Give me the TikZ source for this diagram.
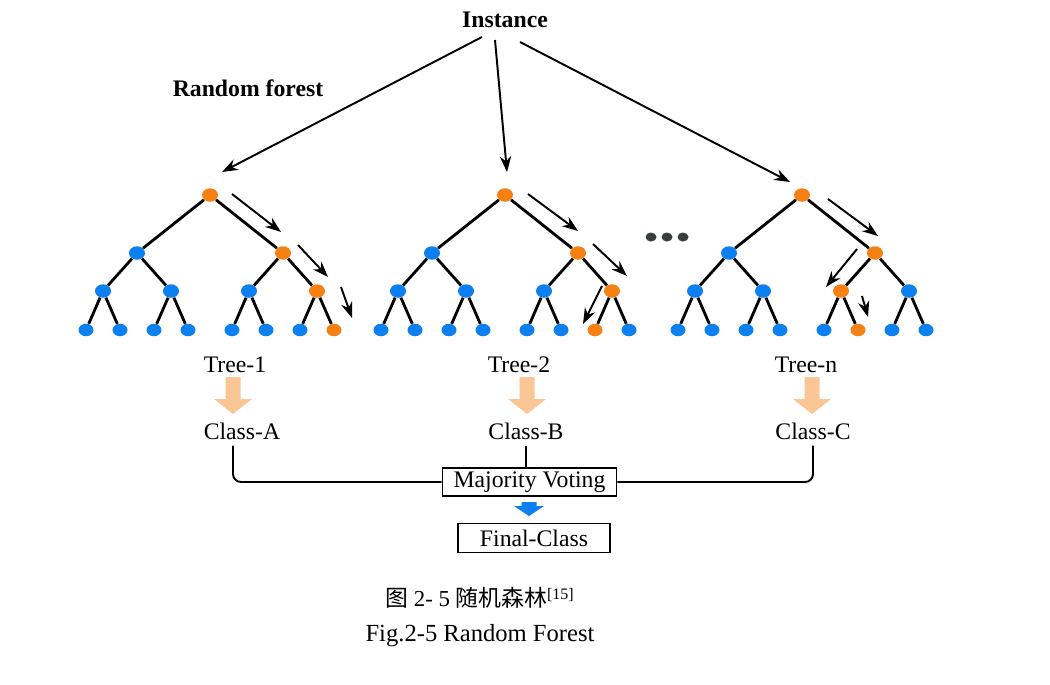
\documentclass[tikz,border=0pt]{standalone}
\usepackage{fontspec}
\setmainfont{Liberation Serif}
\newfontfamily\cjk{Noto Sans CJK SC}
\usepackage{xcolor}
\usetikzlibrary{shapes.geometric,arrows.meta,calc}
\definecolor{treeblue}{RGB}{12,128,238}
\definecolor{treeorange}{RGB}{245,128,20}
\definecolor{peach}{RGB}{250,198,150}
\definecolor{dotgray}{RGB}{55,60,60}

\begin{document}
\begin{tikzpicture}[x=0.02cm,y=-0.02cm,
  every node/.style={font=\fontsize{13.5}{16}\selectfont},
  knot/.style={ellipse,inner sep=0pt,minimum width=0.32cm,minimum height=0.27cm},
  leaf/.style={knot,minimum width=0.3cm,minimum height=0.25cm},
  branch/.style={line width=1.6pt},
  arr/.style={line width=1.1pt,-{Stealth[length=9pt,width=6.5pt]}},
  box/.style={draw,line width=1.1pt,inner sep=0pt}]
\useasboundingbox (0,0) rectangle (1050,684);

% the three trees, heap numbering 1..15, orange = path of the instance
\foreach \t/\rx/\a/\b/\c in {1/210/3/7/15,2/505/3/7/14,3/802/3/6/13} {
  \node[knot,fill=treeorange] (t\t-1) at (\rx,195) {};
  \foreach \i/\dx in {2/-73,3/73} {
    \pgfmathsetmacro\col{ifthenelse(\i==\a,"treeorange","treeblue")}
    \node[knot,fill=\col] (t\t-\i) at (\rx+\dx,253) {};
  }
  \foreach \i/\dx in {4/-107,5/-39,6/39,7/107} {
    \pgfmathsetmacro\col{ifthenelse(\i==\b,"treeorange","treeblue")}
    \node[knot,fill=\col] (t\t-\i) at (\rx+\dx,291) {};
  }
  \foreach \i/\dx in {8/-124,9/-90,10/-56,11/-22,12/22,13/56,14/90,15/124} {
    \pgfmathsetmacro\col{ifthenelse(\i==\c,"treeorange","treeblue")}
    \node[leaf,fill=\col] (t\t-\i) at (\rx+\dx,330) {};
  }
  \foreach \p [evaluate=\p as \l using int(2*\p), evaluate=\p as \r using int(2*\p+1)] in {1,...,7}
    \draw[branch] (t\t-\p) -- (t\t-\l) (t\t-\p) -- (t\t-\r);
}

% path arrows beside the branches
\foreach \xa/\ya/\xb/\yb in {232/194/281/232, 298/245/328/277, 341/287/352/318,
    528/194/578/231, 593/244/627/276, 602/286/583/324,
    828/199/878/236, 857/249/826/287, 862/296/868/317}
  \draw[arr] (\xa,\ya) -- (\xb,\yb);

% dots between tree 2 and tree n
\foreach \x in {651,667,683}
  \fill[dotgray] (\x,237) ellipse [x radius=5.5, y radius=4.5];

\node (inst) at (505,20) {\textbf{Instance}};
\node (rf) at (248,88) {\textbf{Random forest}};
\draw[arr] ($(inst)+(-23,17)$) -- ($(t1-1)+(12,-23)$);
\draw[arr] ($(inst)+(-10,20)$) -- ($(t2-1)+(2,-23)$);
\draw[arr] ($(inst)+(15,22)$) -- ($(t3-1)+(-12,-13)$);

\node (tree1) at (235,365) {Tree-1};
\node (tree2) at (519,365) {Tree-2};
\node (treen) at (806,365) {Tree-n};
\node (classA) at (242,431) {Class-A};
\node (classB) at (526,431) {Class-B};
\node (classC) at (813,431) {Class-C};

% fat arrows tree -> class
\foreach \x in {233,527,812}
  \fill[peach] (\x-7.5,377) -- (\x+7.5,377) -- (\x+7.5,399) -- (\x+19,399)
    -- (\x,414) -- (\x-19,399) -- (\x-7.5,399) -- cycle;

\node[box,minimum width=3.48cm,minimum height=0.56cm] (vote) at (529.5,482) {Majority Voting};
\node[box,minimum width=3.04cm,minimum height=0.58cm] (final) at (534,538) {Final-Class};

\draw[line width=1.1pt,rounded corners=0.16cm] ([xshift=-0.18cm]classA.south) |- (vote.west);
\draw[line width=1.1pt] (classB.south) -- (classB.south |- vote.north);
\draw[line width=1.1pt,rounded corners=0.16cm] (classC.south) |- (vote.east);

% blue arrow vote -> final
\fill[treeblue] (521.5,502) -- (536.5,502) -- (536.5,506) -- (544,506)
  -- (529,516) -- (514,506) -- (521.5,506) -- cycle;

\node[font=\fontsize{13}{16}\selectfont] (capcn) at (480,598) {{\cjk 图} 2- 5 {\cjk 随机森林}\textsuperscript{[15]}};
\node[font=\fontsize{14}{17}\selectfont] (capen) at (480,636) {Fig.2-5 Random Forest};
\end{tikzpicture}
\end{document}
